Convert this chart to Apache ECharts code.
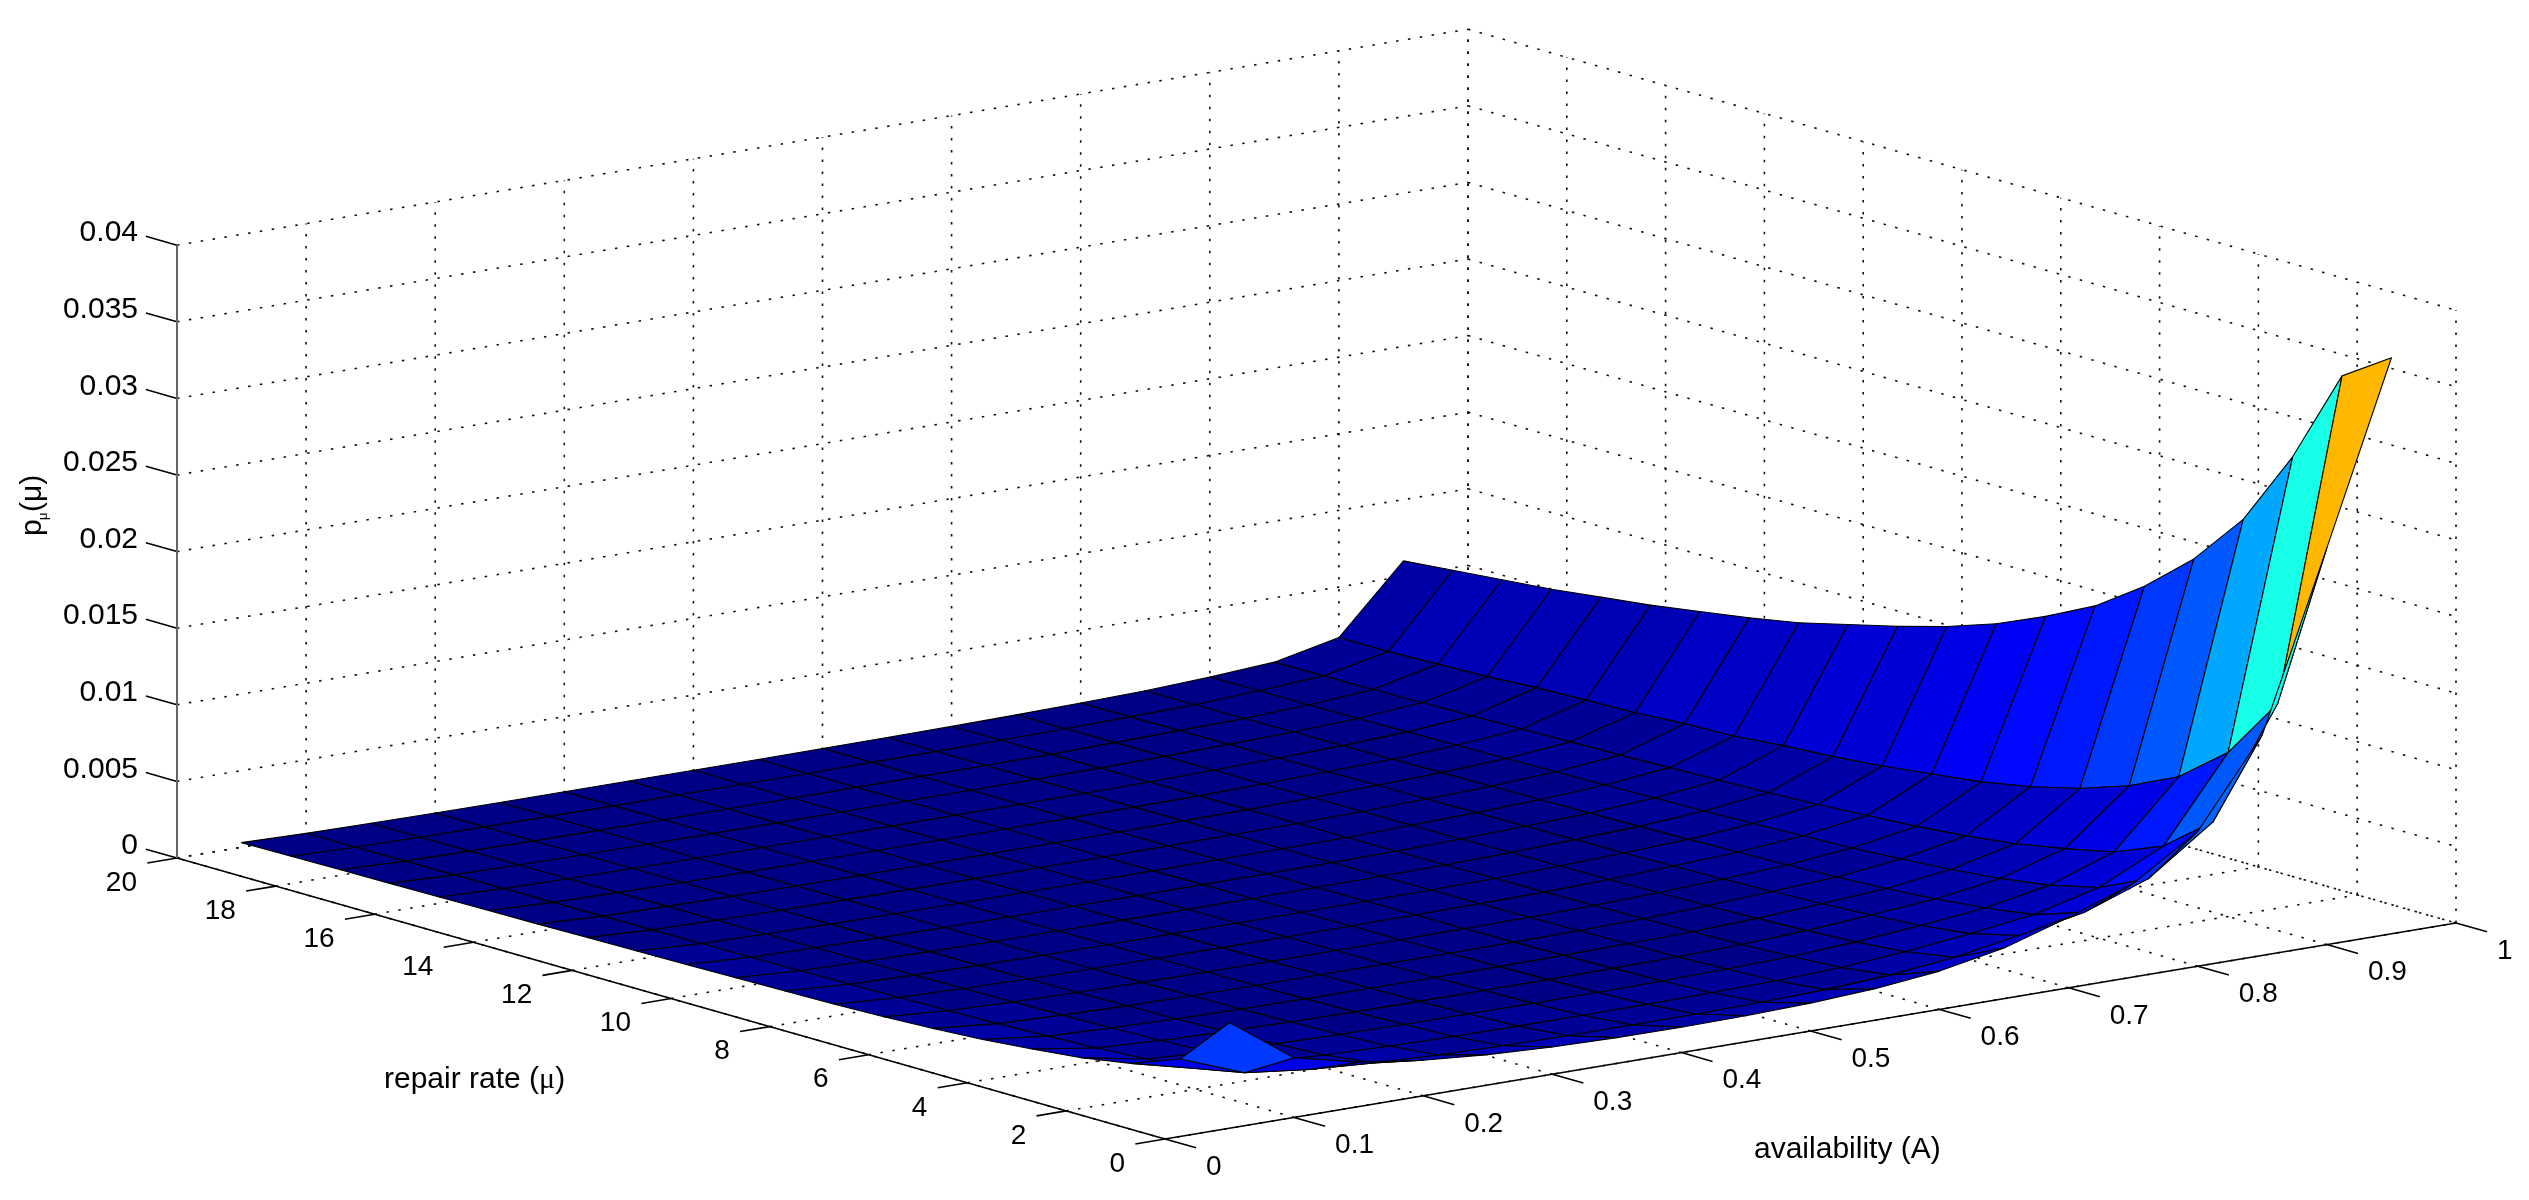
<!DOCTYPE html>
<html><head><meta charset="utf-8">
<style>html,body{margin:0;padding:0;background:#fff}#c{width:2529px;height:1200px}</style>
<script src="https://cdn.jsdelivr.net/npm/echarts@6/dist/echarts.min.js"></script>
</head><body><div id="c"></div>
<script>
// surface grid
const availability = [0.05,0.10,0.15,0.20,0.25,0.30,0.35,0.40,0.45,0.50,0.55,0.60,0.65,0.70,0.75,0.80,0.85,0.90,0.95];
const repairRate = [0,1,2,3,4,5,6,7,8,9,10,11,12,13,14,15,16,17,18,19,20];
// p values in units of 1e-5, one row per repair rate (columns: availability)
const pUnit = 1e-5;
const pRows = [
[690,390,290,232,198,178,168,166,170,182,205,250,330,460,610,880,1440,2590,3760],
[360,200,150,122,104,94,89,88,90,96,108,132,178,250,330,480,780,1480,3550],
[240,136,102,83,70,63,60,60,61,66,74,90,122,170,224,330,530,1070,2930],
[185,106,80,64,54,49,47,46,47,51,57,70,95,132,175,254,400,820,2430],
[150,86,65,52,44,40,38,38,39,42,47,57,77,108,142,206,330,670,2080],
[120,72,54,43,37,33,32,32,32,35,40,48,65,90,119,173,270,560,1810],
[100,62,47,37,32,29,28,27,28,30,34,41,56,78,102,149,230,480,1590],
[85,54,41,32,28,25,24,24,24,26,30,36,49,68,89,130,200,420,1430],
[75,49,37,29,25,23,22,21,22,24,27,32,44,61,81,118,180,380,1290],
[70,44,33,26,22,20,20,19,20,22,24,29,40,55,73,106,160,340,1180],
[65,40,30,24,20,18,18,18,18,20,22,26,36,50,66,96,145,310,1090],
[60,37,28,22,19,17,17,16,17,18,20,24,33,46,61,89,135,290,1010],
[56,34,26,20,17,15,15,15,15,17,19,22,31,43,56,82,125,260,930],
[52,32,24,19,16,14,14,14,14,16,18,21,29,40,53,77,115,250,870],
[48,30,23,18,15,14,13,13,14,15,17,20,27,38,50,72,110,230,820],
[45,28,21,17,14,13,12,12,13,14,15,18,25,35,46,67,102,220,770],
[42,26,20,16,13,12,12,11,12,13,14,17,23,33,43,62,96,210,730],
[39,24,18,14,12,11,11,11,11,12,13,16,22,30,40,58,90,190,690],
[36,22,17,13,11,10,10,10,10,11,12,14,20,28,36,54,85,180,660],
[33,21,16,13,11,9,9,9,9,11,12,14,19,26,35,55,82,170,630],
[30,20,15,12,10,9,9,9,9,10,11,13,18,25,34,54,80,170,600]
];
// axis ticks
const aTicks = [0,0.1,0.2,0.3,0.4,0.5,0.6,0.7,0.8,0.9,1];
const aTickLabels = ['0','0.1','0.2','0.3','0.4','0.5','0.6','0.7','0.8','0.9','1'];
const muTicks = [0,2,4,6,8,10,12,14,16,18,20];
const pTicks = [0,0.005,0.01,0.015,0.02,0.025,0.03,0.035,0.04];
const pTickLabels = ['0','0.005','0.01','0.015','0.02','0.025','0.03','0.035','0.04'];
const aMax = 1, muMax = 20, pMax = 0.04;

// orthographic view: screen position of (A, mu, p)
const view = {x0:1165, y0:1139, xA:1291, yA:-216, xMu:-49.4, yMu:-14.05, yP:-15320};
function project(A, mu, p){
  return [view.x0 + view.xA*A + view.xMu*mu, view.y0 + view.yA*A + view.yMu*mu + view.yP*p];
}
const FONT = '"Liberation Sans", Arial, sans-serif';
const zTop = Math.max.apply(null, pRows.map(r => Math.max.apply(null, r))) * pUnit;
function jet(t){
  const v = (Math.min(63, Math.floor(t*64)) + 0.5)/64;
  const cl = x => Math.round(255*Math.max(0, Math.min(1, x)));
  return 'rgb(' + cl(Math.min(4*v-1.5, -4*v+4.5)) + ',' + cl(Math.min(4*v-0.5, -4*v+3.5)) + ',' + cl(Math.min(4*v+0.5, -4*v+2.5)) + ')';
}

// quads painted back to front
const cells = [];
for (let j = repairRate.length-2; j >= 0; j--)
  for (let i = availability.length-2; i >= 0; i--) cells.push([i, j]);

const dotted = [], solid = [];
const seg = (list, a, m, p, a2, m2, p2) => list.push([a, m, p, a2, m2, p2]);
aTicks.forEach(a => {
  seg(dotted, a, 0, 0, a, muMax, 0);
  seg(dotted, a, muMax, 0, a, muMax, pMax);
  seg(solid, a, 0, 0, a, -0.63, 0);
});
muTicks.forEach(m => {
  seg(dotted, 0, m, 0, aMax, m, 0);
  seg(dotted, aMax, m, 0, aMax, m, pMax);
  seg(solid, 0, m, 0, -0.023, m, 0);
});
pTicks.forEach(p => {
  seg(dotted, 0, muMax, p, aMax, muMax, p);
  seg(dotted, aMax, muMax, p, aMax, 0, p);
  seg(solid, 0, muMax, p, 0, muMax + 0.63, p);
});
seg(solid, 0, 0, 0, aMax, 0, 0);
seg(solid, 0, 0, 0, 0, muMax, 0);

function lineItem(style){
  return function(params, api){
    const a = api.coord(project(api.value(0), api.value(1), api.value(2)));
    const b = api.coord(project(api.value(3), api.value(4), api.value(5)));
    return {type:'line', shape:{x1:a[0], y1:a[1], x2:b[0], y2:b[1]}, style:style};
  };
}
function txt(x, y, text, size, align, extra){
  return {type:'text', x:x, y:y, style:Object.assign({text:text, fill:'#000', font:size+'px '+FONT, align:align, verticalAlign:'middle'}, extra||{})};
}
function renderLabels(params, api){
  const kids = [];
  const at = (A, m, p, dx, dy) => { const c = api.coord(project(A, m, p)); return [c[0]+dx, c[1]+dy]; };
  pTicks.forEach((p, i) => { const c = at(0, muMax, p, -39, -12); kids.push(txt(c[0], c[1], pTickLabels[i], 30, 'right')); });
  muTicks.forEach(m => { const c = at(0, m, 0, -40, 25); kids.push(txt(c[0], c[1], String(m), 28, 'right')); });
  aTicks.forEach((a, i) => { const c = at(a, 0, 0, 41, 28); kids.push(txt(c[0], c[1], aTickLabels[i], 28, 'left')); });
  kids.push(txt(1754, 1150, 'availability (A)', 30, 'left'));
  kids.push({type:'text', x:384, y:1080, style:{text:'{a|repair rate (}{b|\u03bc}{a|)}', fill:'#000', align:'left', verticalAlign:'middle',
    rich:{a:{font:'30px '+FONT, fill:'#000'}, b:{font:'30px "Liberation Serif", serif', fill:'#000'}}}});
  const rot = {rotation:Math.PI/2};
  kids.push(Object.assign(txt(33, 536, 'p', 30, 'left'), rot));
  kids.push(Object.assign(txt(43, 520, '\u03bc', 13, 'left'), rot));
  kids.push(Object.assign(txt(33, 512, '(\u03bc)', 30, 'left'), rot));
  return {type:'group', children:kids};
}

const chart = echarts.init(document.getElementById('c'), null, {renderer:'canvas', width:2529, height:1200});
chart.setOption({
  animation:false,
  backgroundColor:'#fff',
  grid:{left:0, right:0, top:0, bottom:0},
  xAxis:{type:'value', min:0, max:2529, show:false},
  yAxis:{type:'value', min:0, max:1200, inverse:true, show:false},
  series:[
    {type:'custom', name:'grid', silent:true, data:dotted,
     renderItem:lineItem({stroke:'#111', lineWidth:1.6, lineDash:[2.5,9.5], fill:null})},
    {type:'custom', name:'p(A, mu)', silent:true, data:cells,
     renderItem:function(params, api){
       const i = api.value(0), j = api.value(1);
       const corner = (ii, jj) => api.coord(project(availability[ii], repairRate[jj], pRows[jj][ii]*pUnit));
       return {type:'polygon',
         shape:{points:[corner(i,j), corner(i+1,j), corner(i+1,j+1), corner(i,j+1)]},
         style:{fill:jet(pRows[j][i]*pUnit/zTop), stroke:'#000', lineWidth:1.1, lineJoin:'round'}};
     }},
    {type:'custom', name:'axes', silent:true, data:solid,
     renderItem:lineItem({stroke:'#000', lineWidth:1.6, fill:null})},
    {type:'custom', name:'z axis', silent:true, data:[[0, muMax, 0, 0, muMax, pMax]],
     renderItem:lineItem({stroke:'#666', lineWidth:2, fill:null})},
    {type:'custom', name:'labels', silent:true, data:[[0]], renderItem:renderLabels}
  ]
});
</script></body></html>
